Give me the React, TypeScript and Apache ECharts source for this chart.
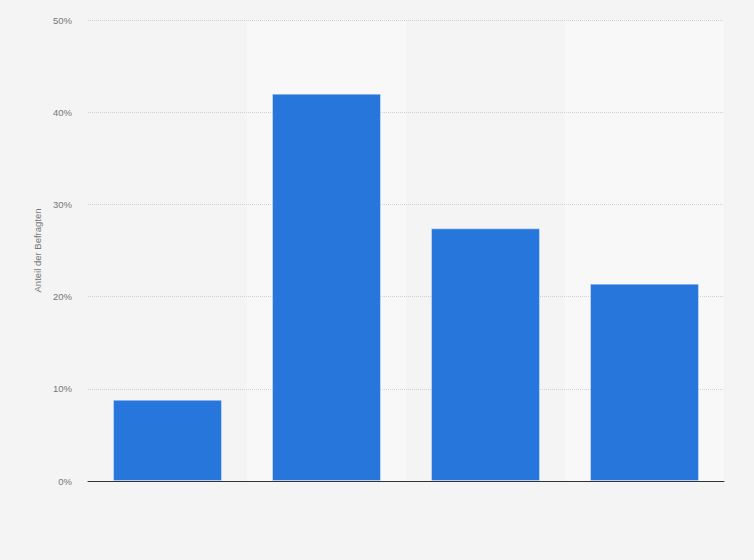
import { useEffect, useRef } from 'react';
import * as echarts from 'echarts';

// answer groups (no labels shown in the source chart)
const categories = ['A', 'B', 'C', 'D'];
// share of respondents, in percent
const shares = [8.8, 42.0, 27.4, 21.4];
const yTicks = [0, 10, 20, 30, 40, 50];

const App = () => {
    const chartRef = useRef<HTMLDivElement>(null);

    useEffect(() => {
        if (!chartRef.current) return;
        const chart = echarts.init(chartRef.current, null, { renderer: 'svg' });

        chart.setOption({
            animation: false,
            backgroundColor: '#f4f4f4',
            textStyle: { fontFamily: 'Liberation Sans, Arial, sans-serif' },
            grid: { left: 88, right: 30, top: 20, bottom: 79 },
            xAxis: {
                type: 'category',
                data: categories,
                z: 1,
                axisLine: { lineStyle: { color: '#333333', width: 1 } },
                axisTick: { show: false },
                axisLabel: { show: false },
                splitArea: { show: true, areaStyle: { color: ['#f4f4f4', '#f8f8f8'] } }
            },
            yAxis: {
                type: 'value',
                min: yTicks[0],
                max: yTicks[yTicks.length - 1],
                interval: 10,
                z: 2,
                name: 'Anteil der Befragten',
                nameLocation: 'middle',
                nameGap: 41,
                nameTextStyle: { color: '#777777', fontSize: 9.5 },
                axisLine: { show: false },
                axisTick: { show: false },
                axisLabel: {
                    color: '#777777',
                    fontSize: 9.5,
                    margin: 16,
                    formatter: (v: number) => `${v}%`
                },
                splitLine: {
                    showMinLine: false,
                    lineStyle: { color: '#d2d2d2', type: 'dotted', width: 1 }
                }
            },
            series: [
                {
                    type: 'bar',
                    data: shares,
                    barWidth: '68.5%',
                    z: 3,
                    itemStyle: { color: '#2776db', borderColor: 'rgba(255,255,255,0.35)', borderWidth: 1 }
                }
            ]
        });

        return () => chart.dispose();
    }, []);

    return <div ref={chartRef} style={{ width: 754, height: 560, position: 'absolute', left: 0, top: 0 }} />;
};

export default App;
